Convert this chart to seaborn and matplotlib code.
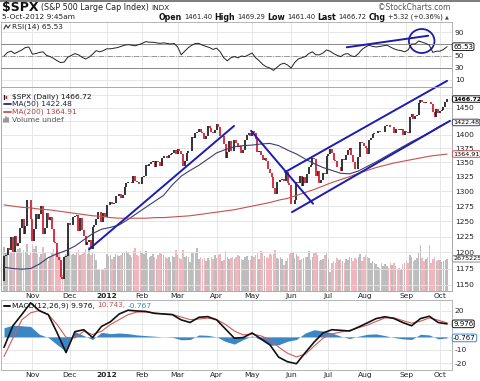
import numpy as np
import pandas as pd
import matplotlib
matplotlib.use("Agg")
import matplotlib.pyplot as plt
from matplotlib.patches import Ellipse
from matplotlib.lines import Line2D
from matplotlib.ticker import NullLocator
import seaborn as sns

sns.set_style("white")
plt.rcParams['font.family'] = ['DejaVu Sans']

# ---------------- data ----------------
holidays = ['2011-11-24', '2011-12-26', '2012-01-02', '2012-01-16', '2012-02-20',
            '2012-04-06', '2012-05-28', '2012-07-04', '2012-09-03']
dates = pd.bdate_range('2011-10-10', '2012-10-05')
dates = dates[~dates.isin(pd.to_datetime(holidays))]

prev_close = 1155.5
close_oct11 = [1194.9, 1195.5, 1207.3, 1203.7, 1224.6, 1200.9, 1225.4, 1209.9, 1215.4, 1238.3, 1254.2, 1229.1, 1242.0, 1284.6, 1285.1, 1253.3]
close_nov11 = [1218.3, 1237.9, 1261.2, 1253.2, 1261.1, 1275.9, 1229.1, 1239.7, 1263.9, 1251.8, 1257.8, 1236.9, 1216.1, 1215.7, 1192.9, 1188.0, 1161.8, 1158.7, 1192.6, 1195.2, 1246.9]
close_dec11 = [1244.6, 1244.3, 1257.1, 1258.5, 1261.0, 1234.4, 1255.2, 1236.5, 1225.7, 1211.8, 1215.8, 1219.7, 1205.4, 1241.3, 1243.7, 1254.0, 1265.3, 1265.4, 1249.6, 1263.0, 1257.6]
close_jan12 = [1277.1, 1277.3, 1281.1, 1277.8, 1280.7, 1292.1, 1292.5, 1295.5, 1289.1, 1293.7, 1308.0, 1314.5, 1315.4, 1316.0, 1314.7, 1326.1, 1318.4, 1316.3, 1313.0, 1312.4]
close_feb12 = [1324.1, 1325.5, 1344.9, 1344.3, 1347.0, 1349.9, 1351.9, 1342.6, 1351.8, 1350.5, 1343.2, 1358.0, 1361.2, 1362.2, 1357.7, 1363.5, 1365.7, 1367.6, 1372.2, 1365.7]
close_mar12 = [1374.1, 1369.6, 1364.3, 1343.4, 1352.6, 1365.9, 1370.9, 1371.1, 1395.9, 1394.3, 1402.6, 1404.2, 1409.8, 1405.5, 1402.9, 1392.8, 1397.1, 1416.5, 1412.5, 1405.5, 1403.3, 1408.5]
close_apr12 = [1419.0, 1413.4, 1398.0, 1398.1, 1382.2, 1358.6, 1368.7, 1387.6, 1370.3, 1369.6, 1390.8, 1385.1, 1376.9, 1378.5, 1366.9, 1371.9, 1390.7, 1399.9, 1403.4, 1397.9]
close_may12 = [1405.8, 1402.3, 1391.6, 1369.1, 1369.6, 1363.7, 1354.6, 1357.9, 1353.4, 1338.4, 1330.7, 1324.8, 1304.9, 1295.2, 1315.9, 1316.6, 1318.9, 1320.7, 1317.8, 1332.4, 1313.3, 1310.3]
close_jun12 = [1278.0, 1278.2, 1285.5, 1315.1, 1314.9, 1325.7, 1308.9, 1324.2, 1314.9, 1329.1, 1342.8, 1344.8, 1357.9, 1355.7, 1325.5, 1335.0, 1313.7, 1319.9, 1331.9, 1329.0, 1362.2]
close_jul12 = [1365.5, 1374.0, 1367.6, 1354.7, 1352.5, 1341.5, 1341.9, 1334.8, 1356.8, 1353.6, 1363.7, 1372.8, 1376.5, 1362.7, 1350.5, 1338.3, 1337.9, 1360.0, 1385.9, 1385.3, 1379.3]
close_aug12 = [1375.3, 1365.0, 1390.9, 1394.2, 1401.4, 1402.2, 1402.8, 1405.9, 1404.1, 1403.9, 1405.5, 1415.5, 1418.2, 1418.1, 1413.2, 1413.5, 1402.1, 1411.1, 1410.4, 1409.3, 1410.5, 1399.5, 1406.6]
close_sep12 = [1404.9, 1403.4, 1432.1, 1437.9, 1429.1, 1433.6, 1436.6, 1459.9, 1465.8, 1461.2, 1459.3, 1461.1, 1460.3, 1460.2, 1456.9, 1441.6, 1433.3, 1447.2, 1440.7]
close_oct12 = [1444.5, 1445.8, 1450.9, 1461.4, 1466.72]

# volume, billions of shares
vol_oct11 = [4.6, 4.0, 4.3, 3.9, 4.1, 4.0, 4.3, 4.2, 4.4, 4.5, 4.0, 4.3, 4.1, 5.0, 3.8, 4.0]
vol_nov11 = [4.9, 4.4, 4.7, 3.9, 3.6, 3.9, 4.6, 4.0, 3.4, 3.2, 3.6, 4.0, 4.4, 4.0, 4.2, 4.1, 3.6, 1.7, 3.7, 3.9, 5.1]
vol_dec11 = [4.2, 3.8, 3.9, 3.8, 4.1, 4.3, 3.8, 3.9, 4.1, 4.4, 3.9, 4.6, 3.8, 4.0, 3.9, 3.3, 2.3, 2.2, 2.3, 2.2, 2.4]
vol_jan12 = [3.9, 3.7, 3.8, 3.4, 3.6, 3.9, 3.8, 3.7, 3.8, 4.0, 4.1, 4.2, 4.1, 3.8, 3.6, 4.2, 4.5, 3.8, 3.7, 4.2]
vol_feb12 = [4.0, 3.9, 4.2, 3.4, 3.6, 3.7, 3.9, 3.6, 3.4, 3.8, 4.0, 3.9, 3.8, 3.6, 3.5, 3.6, 3.1, 3.7, 3.6, 4.3]
vol_mar12 = [3.8, 3.5, 3.4, 4.3, 3.6, 3.7, 3.6, 3.1, 4.0, 4.1, 4.0, 4.5, 3.4, 3.6, 3.4, 3.5, 3.2, 3.5, 3.3, 3.6, 3.4, 3.8]
vol_apr12 = [3.5, 3.8, 3.9, 3.2, 3.3, 4.2, 3.6, 3.4, 3.5, 3.6, 3.4, 3.6, 3.8, 3.7, 3.4, 3.3, 3.6, 3.7, 3.3, 3.3]
vol_may12 = [3.7, 3.6, 3.8, 4.0, 3.4, 4.2, 4.0, 3.7, 3.6, 3.5, 3.9, 3.8, 3.9, 4.3, 3.5, 3.4, 3.6, 3.4, 2.7, 3.2, 3.5, 3.9]
vol_jun12 = [4.0, 4.1, 3.5, 3.9, 3.7, 3.3, 3.4, 3.5, 3.6, 3.6, 4.2, 3.3, 3.6, 4.0, 4.1, 3.8, 3.2, 3.3, 3.4, 3.8, 4.0]
vol_jul12 = [3.4, 2.0, 3.0, 3.2, 3.0, 3.5, 3.3, 3.4, 3.2, 2.9, 3.4, 3.3, 3.6, 3.5, 3.2, 3.5, 3.4, 3.6, 3.9, 3.2, 3.6]
vol_aug12 = [3.8, 3.6, 3.5, 2.9, 3.2, 2.9, 2.8, 2.5, 2.4, 2.9, 2.6, 2.8, 2.6, 2.4, 2.9, 2.7, 3.0, 2.6, 2.2, 2.4, 2.3, 2.8, 2.9]
vol_sep12 = [3.2, 3.0, 3.8, 3.6, 3.2, 3.3, 3.5, 4.0, 4.8, 3.5, 3.2, 3.4, 3.6, 4.8, 3.0, 3.4, 3.6, 3.2, 3.3]
vol_oct12 = [3.3, 3.1, 3.2, 3.3, 3.4]

# RSI(14), one value every 2 sessions
rsi14 = [50, 56, 58, 54, 57, 60, 64, 65, 53, 54,
         56, 57, 51, 49, 46, 42, 39, 40, 48, 51,
         54, 52, 48, 45, 48, 53, 59, 57, 59, 62,
         62, 63, 64, 66, 68, 69, 68, 67, 69, 71,
         74, 73, 73, 72, 71, 72, 71, 70, 71, 65,
         52, 58, 64, 68, 71, 71, 68, 66, 64, 61,
         63, 57, 47, 42, 47, 49, 47, 50, 49, 52,
         55, 47, 42, 36, 32, 30, 26, 31, 36, 38,
         35, 30, 39, 45, 47, 49, 54, 57, 52, 52,
         55, 60, 58, 54, 51, 49, 53, 54, 50, 49,
         54, 61, 65, 68, 66, 65, 66, 67, 68, 65,
         62, 60, 59, 57, 60, 70, 70, 75, 73, 71,
         68, 56, 58, 58, 61, 65.53]

# indicators, one value every 5 sessions
ma50 = [1177, 1175, 1174, 1175, 1182, 1192, 1198, 1203, 1210, 1220,
        1230, 1237, 1240, 1244, 1253, 1263, 1273, 1283, 1293, 1311,
        1326, 1336, 1345, 1356, 1367, 1373, 1378, 1380, 1381, 1383,
        1384, 1380, 1372, 1365, 1356, 1348, 1341, 1336, 1331, 1330,
        1335, 1343, 1351, 1360, 1369, 1378, 1387, 1395, 1404, 1414, 1422.48]
ma200 = [1277, 1275, 1273, 1272, 1270, 1269, 1267, 1265, 1263, 1261,
         1259, 1258, 1256, 1255, 1255, 1255, 1255, 1256, 1256, 1257,
         1258, 1259, 1261, 1263, 1265, 1267, 1269, 1272, 1275, 1278,
         1281, 1285, 1288, 1293, 1298, 1303, 1309, 1315, 1320, 1325,
         1331, 1336, 1341, 1345, 1349, 1352, 1355, 1358, 1361, 1363, 1364.91]
macd_line = [-8, 8.5, 17, 26, 20, 17, 3, -12, 4, 5.5,
             -0.5, 8, 11.5, 17.5, 20.4, 19.8, 19.5, 18, 17.5, 17,
             13, 11, 15, 15.5, 13, 6, -1, -0.5, 3, -1.5,
             -6, -15.5, -19, -20.5, -12, -4, 3, 5.5, 5, 4.5,
             7.5, 10.7, 14, 15.4, 14.1, 11, 8.5, 14, 15.8, 11, 9.976]
signal_line = [-15, -1, 13, 18.4, 20.2, 17, 9.4, -0.3, -0.8, 4.3,
               1.8, 4.3, 9.4, 13.2, 17, 19, 19, 18.2, 17.6, 17.2,
               15.2, 13.2, 13.7, 14.3, 13.3, 9.5, 4.5, 1.5, 2.2, 0.8,
               -2.2, -7.8, -12.5, -15.3, -13.2, -7, -1, 2.2, 3.8, 5,
               7, 9, 11.8, 14.5, 14.6, 12.5, 10.5, 12, 14.5, 12.8, 10.743]
macd_hist = [7, 9, 8.5, 8, 2, -0.5, -6, -11, 4, 1,
             -2, 3.5, 2.5, 3, 2.5, 1.5, 1, 0.5, 0, -0.3,
             -2.2, -2, 1.5, 1.2, 0, -3.5, -5.5, -2, 0.8, -2.3,
             -6.5, -6, -3.3, -2, 3, 5.5, 4.5, 3, 0.5, -1.3,
             0.5, 2, 2.3, 1, -0.5, -1.5, -2, 2, 1.5, -1.5, -0.767]

month_labels = ['Nov', 'Dec', '2012', 'Feb', 'Mar', 'Apr', 'May', 'Jun', 'Jul', 'Aug', 'Sep', 'Oct']

# hand drawn trend lines: (session index, value)
trend_rally = [(48, 1205), (129.8, 1416)]
trend_drop = [(139.4, 1407), (174.4, 1279)]
channel_top = [(158.6, 1333), (250, 1502)]
channel_bottom = [(162.5, 1265), (251.7, 1425.5)]
rsi_trend = [(193.4, 64.5), (239.4, 83.8)]
rsi_circle = (235.7, 75)

close = np.array(close_oct11 + close_nov11 + close_dec11 + close_jan12 + close_feb12 + close_mar12
                 + close_apr12 + close_may12 + close_jun12 + close_jul12 + close_aug12 + close_sep12 + close_oct12)
volume = np.array(vol_oct11 + vol_nov11 + vol_dec11 + vol_jan12 + vol_feb12 + vol_mar12
                  + vol_apr12 + vol_may12 + vol_jun12 + vol_jul12 + vol_aug12 + vol_sep12 + vol_oct12)
idx = np.arange(len(close))
opens = np.r_[prev_close, close[:-1]]
up = close >= opens

pos = pd.Series(np.arange(len(dates)), index=dates)
month_idx = pos.groupby([dates.year, dates.month]).first().values[1:]
rsi_idx = np.arange(len(rsi14)) * 2
ind_idx = np.arange(len(ma50)) * 5

# ---------------- layout ----------------
W, H = 480, 381
fig = plt.figure(figsize=(W / 100, H / 100), dpi=100)
fig.patch.set_facecolor('white')

def px_axes(x0, y0, x1, y1, **kw):
    return fig.add_axes([x0 / W, 1 - y1 / H, (x1 - x0) / W, (y1 - y0) / H], **kw)

XMIN, XMAX = -1.7, 252.8
ax_rsi = px_axes(1, 22, 452, 87)
ax_vol = px_axes(1, 87, 452, 291)
ax_px = px_axes(1, 87, 452, 291, facecolor='none')
ax_macd = px_axes(1, 300, 452, 370)

GRID = '#e3e3e3'
for ax in (ax_rsi, ax_vol, ax_px, ax_macd):
    for s in ax.spines.values():
        s.set_color('#a9a9a9')
        s.set_linewidth(0.6)
    ax.set_xlim(XMIN, XMAX)
    ax.set_xticks(month_idx)
    ax.yaxis.tick_right()
    ax.tick_params(axis='both', length=0, labelsize=5.4, colors='#222222', pad=2)

# ---------------- RSI ----------------
ax_rsi.set_ylim(-1.7, 106.7)
ax_rsi.set_yticks([10, 30, 50, 70, 90])
ax_rsi.set_yticklabels(['10', '30', '50', '', '90'])
ax_rsi.grid(True, color=GRID, linewidth=0.6)
ax_rsi.set_axisbelow(True)
ax_rsi.set_xticklabels([])
ax_rsi.axhline(70, color='#8a8a8a', linewidth=0.7)
ax_rsi.axhline(30, color='#8a8a8a', linewidth=0.7)
ax_rsi.axhline(50, color='#8a8a8a', linewidth=0.6, linestyle='-.')
sns.lineplot(x=rsi_idx, y=rsi14, ax=ax_rsi, color='#222222', linewidth=0.7)
ax_rsi.set_xlim(XMIN, XMAX)
ax_rsi.plot(*zip(*rsi_trend), color='#1c1cb0', linewidth=1.4, solid_capstyle='round')
ax_rsi.add_patch(Ellipse(rsi_circle, 14.4, 40, fill=False, edgecolor='#1c1cb0', linewidth=1.3, clip_on=False))

# ---------------- price + volume ----------------
ax_vol.set_ylim(0, 21.5)
ax_vol.set_yticks([])
ax_vol.grid(True, axis='x', color=GRID, linewidth=0.6)
ax_vol.set_axisbelow(True)
ax_vol.set_xticklabels([])
ax_vol.bar(idx, volume, width=0.85, color=np.where(up, '#bdbdbd', '#f1b5bd'), linewidth=0)

ax_px.set_yscale('log')
ax_px.set_ylim(1141, 1490)
price_ticks = list(range(1150, 1476, 25))
ax_px.set_yticks(price_ticks)
ax_px.set_yticklabels(['' if t in (1425, 1475) else str(t) for t in price_ticks])
ax_px.yaxis.set_minor_locator(NullLocator())
ax_px.grid(True, axis='y', color=GRID, linewidth=0.6)
ax_px.set_xticklabels(month_labels)
ax_px.tick_params(axis='x', pad=1.5)
ax_px.vlines(idx, opens, close, colors=np.where(up, '#1a1a1a', '#d0182a'), linewidth=1.25)
sns.lineplot(x=ind_idx, y=ma50, ax=ax_px, color='#3d3d74', linewidth=0.8)
sns.lineplot(x=ind_idx, y=ma200, ax=ax_px, color='#c4524d', linewidth=0.8)
ax_px.set_xlim(XMIN, XMAX)
for seg in (trend_rally, trend_drop, channel_top, channel_bottom):
    ax_px.plot(*zip(*seg), color='#1c1cb0', linewidth=1.4, solid_capstyle='round', clip_on=False)

# ---------------- MACD ----------------
ax_macd.set_ylim(-25.3, 28.2)
ax_macd.set_yticks([-20, -10, 0, 10, 20])
ax_macd.set_yticklabels(['-20', '-10', '', '', '20'])
ax_macd.grid(True, color=GRID, linewidth=0.6)
ax_macd.set_axisbelow(True)
ax_macd.set_xticklabels(month_labels)
ax_macd.tick_params(axis='x', pad=1.5)
ax_macd.fill_between(ind_idx, 0, macd_hist, color='#3b87c6', linewidth=0)
sns.lineplot(x=ind_idx, y=signal_line, ax=ax_macd, color='#d65a55', linewidth=0.8)
sns.lineplot(x=ind_idx, y=macd_line, ax=ax_macd, color='#111111', linewidth=1.2)
ax_macd.set_xlim(XMIN, XMAX)

for ax in (ax_px, ax_macd):
    for lab in ax.get_xticklabels():
        if lab.get_text() == '2012':
            lab.set_fontweight('bold')
for ax in (ax_rsi, ax_vol, ax_px, ax_macd):
    ax.set_xlabel('')
    ax.set_ylabel('')

# ---------------- value boxes ----------------
def value_box(ax, y, text, edge, weight='normal', color='black', size=5.0):
    ax.annotate(text, xy=(1.0, y), xycoords=('axes fraction', 'data'), xytext=(0.8, 0),
                textcoords='offset points', ha='left', va='center', fontsize=size,
                fontweight=weight, color=color, annotation_clip=False, zorder=30,
                bbox=dict(boxstyle='round,pad=0.12,rounding_size=0.25', fc='white', ec=edge, lw=0.7))

value_box(ax_rsi, rsi14[-1], '65.53', '#222222')
value_box(ax_px, close[-1], '1466.72', '#111111', weight='bold', size=4.4)
value_box(ax_px, ma50[-1], '1422.48', '#3d3d74', size=4.6)
value_box(ax_px, ma200[-1], '1364.91', '#c4524d', size=4.6)
value_box(ax_vol, volume[-1], '2675225', '#8c8c8c', size=4.6)
value_box(ax_macd, macd_line[-1], '9.976', '#111111')
value_box(ax_macd, macd_hist[-1], '-0.767', '#3b87c6')

# ---------------- header / legends ----------------
renderer = fig.canvas.get_renderer()

def text_run(parts, x, y, right=False, gap=2.5):
    items = []
    for s, size, weight, color in parts:
        t = fig.text(0, 1 - y / H, s, fontsize=size, fontweight=weight, color=color, va='center', ha='left')
        items.append((t, t.get_window_extent(renderer).width))
    total = sum(w for _, w in items) + gap * (len(items) - 1)
    cx = x - total if right else x
    for t, w in items:
        t.set_x(cx / W)
        cx += w + gap

fig.add_artist(Line2D([0, 1], [1 - 0.6 / H] * 2, color='#666666', linewidth=1.2))
text_run([('$SPX', 9, 'bold', '#111111'),
          ('(S&P 500 Large Cap Index)', 5.8, 'normal', '#222222'),
          ('INDX', 5.2, 'normal', '#222222')], 2, 7.5)
fig.text(450 / W, 1 - 7.5 / H, '\u00a9StockCharts.com', fontsize=5.5, color='#555555', ha='right', va='center')
fig.text(2 / W, 1 - 17 / H, '5-Oct-2012 9:45am', fontsize=5.4, color='#222222', ha='left', va='center')
text_run([('Open', 5.7, 'bold', '#111111'), ('1461.40', 4.9, 'normal', '#222222'),
          ('High', 5.7, 'bold', '#111111'), ('1469.29', 4.9, 'normal', '#222222'),
          ('Low', 5.7, 'bold', '#111111'), ('1461.40', 4.9, 'normal', '#222222'),
          ('Last', 5.7, 'bold', '#111111'), ('1466.72', 4.9, 'normal', '#222222'),
          ('Chg', 5.7, 'bold', '#111111'), ('+5.32 (+0.36%)', 4.9, 'normal', '#222222'),
          ('\u25b2', 3.6, 'normal', '#444444')], 449, 17, right=True, gap=2.2)

fig.text(12 / W, 1 - 27 / H, 'RSI(14) 65.53', fontsize=5.4, color='#222222', ha='left', va='center')
fig.add_artist(Line2D([4 / W, 6 / W, 8 / W, 10 / W], [1 - 29 / H, 1 - 25 / H, 1 - 28 / H, 1 - 25 / H],
                      color='#333333', linewidth=0.8))

# price legend
for k, (dx, c) in enumerate([(4, '#1a1a1a'), (6, '#d0182a'), (8, '#1a1a1a')]):
    fig.add_artist(Line2D([dx / W] * 2, [1 - (95 + k) / H, 1 - (99 - k) / H], color=c, linewidth=1.0))
fig.text(12 / W, 1 - 96.5 / H, '$SPX (Daily) 1466.72', fontsize=5.4, color='#111111', ha='left', va='center')
fig.add_artist(Line2D([4 / W, 11 / W], [1 - 104 / H] * 2, color='#2a2a70', linewidth=1.3))
fig.text(12 / W, 1 - 104 / H, 'MA(50) 1422.48', fontsize=5.4, color='#222244', ha='left', va='center')
fig.add_artist(Line2D([4 / W, 11 / W], [1 - 111.5 / H] * 2, color='#c4524d', linewidth=1.3))
fig.text(12 / W, 1 - 111.5 / H, 'MA(200) 1364.91', fontsize=5.4, color='#b04040', ha='left', va='center')
for k, hgt in enumerate([3, 5, 4]):
    fig.add_artist(Line2D([(4 + 2.2 * k) / W] * 2, [1 - 121.5 / H, 1 - (121.5 - hgt) / H], color='#888888', linewidth=1.2))
fig.text(12 / W, 1 - 119.5 / H, 'Volume undef', fontsize=5.4, color='#555555', ha='left', va='center')

# MACD legend
fig.add_artist(Line2D([4 / W, 10 / W], [1 - 305.5 / H] * 2, color='#111111', linewidth=1.4))
text_run([('MACD(12,26,9) 9.976,', 5.4, 'normal', '#111111'),
          ('10.743,', 5.4, 'normal', '#c4524d'),
          ('-0.767', 5.4, 'normal', '#3b87c6')], 12, 305.5, gap=2)

fig.savefig('out.png', dpi=100)
